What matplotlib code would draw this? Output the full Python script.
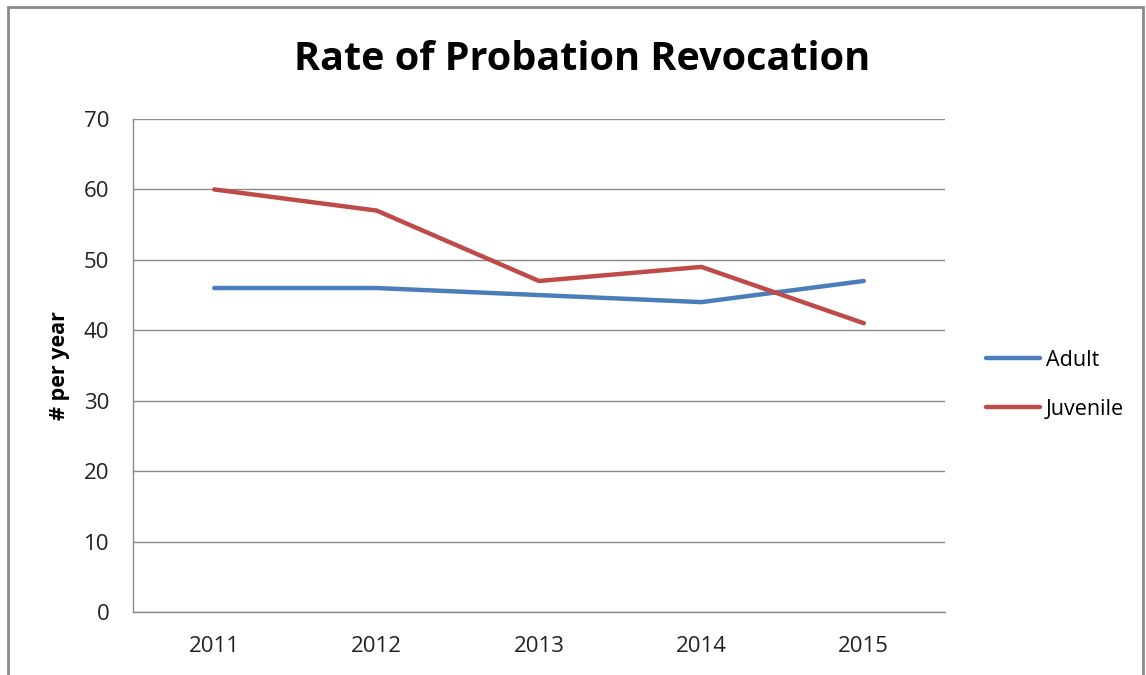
import matplotlib
matplotlib.use("Agg")
import matplotlib.pyplot as plt
from matplotlib.patches import Rectangle

years = ["2011", "2012", "2013", "2014", "2015"]
adult = [46, 46, 45, 44, 47]
juvenile = [60, 57, 47, 49, 41]
yticks = [0, 10, 20, 30, 40, 50, 60, 70]

W, H = 1146, 675
fig = plt.figure(figsize=(W / 100, H / 100), dpi=100)
plt.rcParams['font.family'] = ['Open Sans', 'DejaVu Sans']

# outer frame
fig.patches.append(Rectangle((8 / W, -0.05), (1143 - 8) / W, (H - 7) / H + 0.05,
                             transform=fig.transFigure, fill=False,
                             edgecolor='#8a8a8a', linewidth=2))

ax = fig.add_axes([133 / W, 1 - 612 / H, (945 - 133) / W, (612 - 119) / H])
x = list(range(len(years)))
ax.plot(x, adult, color='#4A7EBB', linewidth=3.2, label='Adult', solid_capstyle='round')
ax.plot(x, juvenile, color='#BE4B48', linewidth=3.2, label='Juvenile', solid_capstyle='round')

ax.set_xlim(-0.5, 4.5)
ax.set_ylim(0, 70)
ax.set_yticks(yticks)
ax.set_xticks(x)
ax.set_xticklabels(years)
ax.tick_params(axis='both', length=0, labelsize=16, colors='#222222')
ax.tick_params(axis='y', pad=17)
ax.tick_params(axis='x', pad=17)
ax.grid(axis='y', color='#8a8a8a', linewidth=1)
ax.set_axisbelow(True)
for s in ['top', 'right']:
    ax.spines[s].set_visible(False)
for s in ['left', 'bottom']:
    ax.spines[s].set_color('#8a8a8a')
    ax.spines[s].set_linewidth(1)

fig.text(582 / W, 1 - 60 / H, 'Rate of Probation Revocation', ha='center', va='center',
         fontsize=28.5, fontweight='bold', color='black')
fig.text(60 / W, 1 - 366 / H, '# per year', rotation=90, ha='center', va='center',
         fontsize=15.5, fontweight='bold', color='black')

leg = ax.legend(loc='center left', bbox_to_anchor=(967 / W, 1 - 385 / H),
                bbox_transform=fig.transFigure, frameon=False, fontsize=15.5,
                handlelength=2.5, handletextpad=0.25, labelspacing=1.3)

fig.savefig('out.png', dpi=100)
